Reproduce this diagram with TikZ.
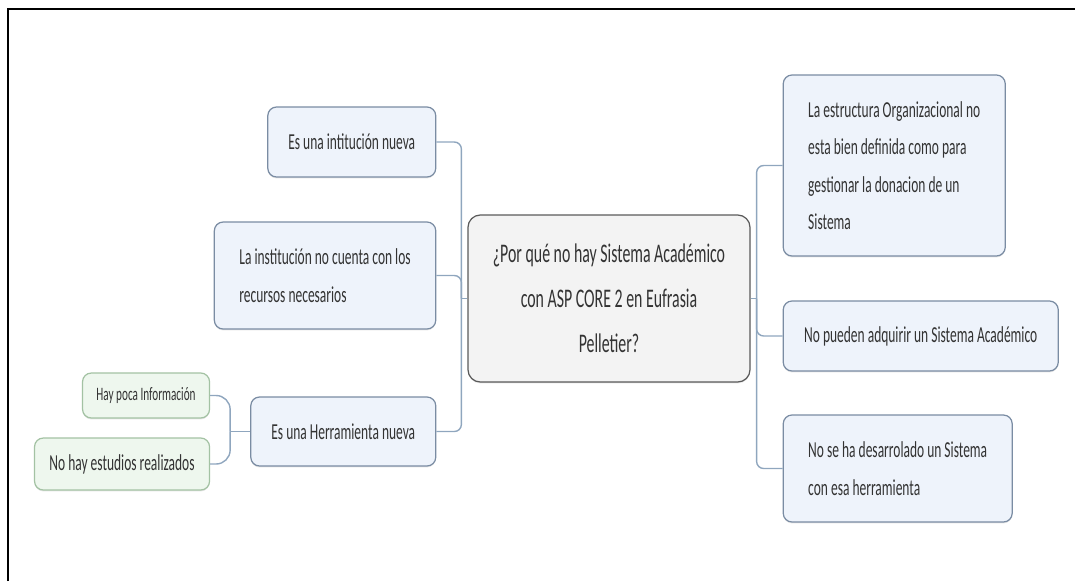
\documentclass[tikz,border=0pt]{standalone}
\usepackage{fontspec}
\newfontfamily\mapfont{Carlito}[FakeStretch=0.59]
\usetikzlibrary{shapes, shadows, positioning, calc}
\definecolor{topicFill}{HTML}{F3F3F3}
\definecolor{topicDraw}{HTML}{5A5A5A}
\definecolor{causeFill}{HTML}{EEF3FB}
\definecolor{causeDraw}{HTML}{7A8CA3}
\definecolor{leafFill}{HTML}{EEF7EE}
\definecolor{leafDraw}{HTML}{A3C2A3}
\definecolor{linkColor}{HTML}{8FA6BE}
\definecolor{textColor}{HTML}{333333}
\tikzstyle{rect}=[rectangle, rounded corners=5pt, align=center, drop
shadow={shadow xshift=0pt, shadow yshift=-0.8pt, opacity=0.2},
draw=causeDraw, line width=0.7pt, fill=causeFill, text=textColor,
font=\mapfont\fontsize{13}{21.3}\selectfont]
\tikzstyle{topic}=[rect, rounded corners=7pt, draw=topicDraw, fill=topicFill,
font=\mapfont\fontsize{15.3}{25.5}\selectfont]
\tikzstyle{leaf}=[rect, draw=leafDraw, fill=leafFill]
\tikzstyle{link}=[draw=linkColor, line width=0.8pt, rounded corners=4pt]
\tikzstyle{frame}=[draw=black, line width=1.1pt]

\begin{document}
\begin{tikzpicture}[node distance=0.62cm]
      \useasboundingbox (0,0) rectangle (21.5,-11.62);
      \draw [frame] (0.16,-11.62) |- (21.5,-0.18);
      \node (problem) [topic, minimum width=5.64cm, minimum height=3.34cm] at (12.18,-5.97)
        {¿Por qué no hay Sistema Académico\\con ASP CORE 2 en Eufrasia\\Pelletier?};
      % left side
      \node (newInst) [rect, minimum width=3.36cm, minimum height=1.4cm, left=of problem, yshift=3.13cm] {Es una intitución nueva};
      \node (resources) [rect, align=left, inner xsep=0.5cm, minimum height=2.14cm, left=of problem, yshift=0.46cm]
        {La institución no cuenta con los\\recursos necesarios};
      \node (newTool) [rect, minimum width=3.7cm, minimum height=1.38cm, left=of problem, yshift=-2.66cm] {Es una Herramienta nueva};
      \node (littleInfo) [leaf, font=\mapfont\fontsize{10.8}{13}\selectfont, minimum width=2.54cm, minimum height=0.9cm, left=0.8cm of newTool, yshift=0.72cm] {Hay poca Información};
      \node (noStudies) [leaf, minimum width=3.5cm, minimum height=1.04cm, left=0.8cm of newTool, yshift=-0.65cm] {No hay estudios realizados};
      % right side
      \node (structure) [rect, align=left, inner xsep=0.5cm, minimum height=3.62cm, right=0.64cm of problem, yshift=2.66cm]
        {La estructura Organizacional no\\esta bien definida como para\\gestionar la donacion de un\\Sistema};
      \node (noBuy) [rect, minimum width=5.5cm, minimum height=1.4cm, right=0.64cm of problem, yshift=-0.75cm] {No pueden adquirir un Sistema Académico};
      \node (noDev) [rect, align=left, inner xsep=0.5cm, minimum height=2.14cm, right=0.64cm of problem, yshift=-3.4cm]
        {No se ha desarrolado un Sistema\\con esa herramienta};
      % connectors
      \coordinate (leftHub) at ($ (problem.west) + (-0.12,0) $);
      \coordinate (rightHub) at ($ (problem.east) + (0.12,0) $);
      \coordinate (toolHub) at ($ (newTool.west) + (-0.4,0) $);
      \draw [link] (problem.west) -- (leftHub);
      \draw [link] (problem.east) -- (rightHub);
      \draw [link] (newTool.west) -- (toolHub);
      \foreach \cause in {newInst, resources, newTool}
        \draw [link] (leftHub) |- (\cause.east);
      \foreach \cause in {structure, noBuy, noDev}
        \draw [link] (rightHub) |- (\cause.west);
      \foreach \cause in {littleInfo, noStudies}
        \draw [link, rounded corners=8pt] (toolHub) |- (\cause.east);
    \end{tikzpicture}
\end{document}
